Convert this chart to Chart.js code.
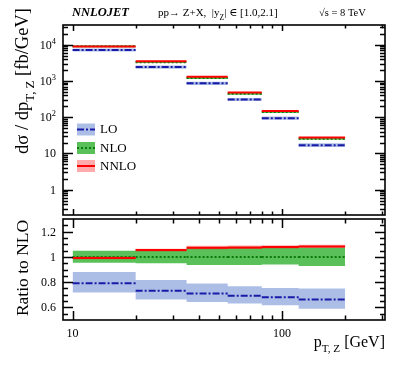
<!DOCTYPE html>
<html lang="en">
<head>
    <meta charset="UTF-8">
    <title>NNLOJET Z pT, |yZ| in [1.0,2.1]</title>
    <style>
        html, body { margin: 0; padding: 0; background: #fff; }
        #wrap { position: relative; width: 407px; height: 365px; }
        canvas { position: absolute; left: 0; }
        #top { top: 0; }
        #ratio { top: 217px; }
    </style>
</head>
<body>
<div id="wrap">
    <canvas id="top" width="407" height="217"></canvas>
    <canvas id="ratio" width="407" height="148"></canvas>
</div>

<script src="https://cdn.jsdelivr.net/npm/chart.js"></script>
<script>
// bins in pT,Z [GeV]
const binEdges = [10, 20, 35, 55, 80, 120, 200];

// top panel: dsigma/dpT [fb/GeV]
const loXs     = [7130, 2420, 858, 308, 94.0, 16.9];
const loLow    = [6450, 2185, 778, 280, 85.0, 15.1];
const loHigh   = [7920, 2690, 956, 341, 104, 19.2];
const nloXs    = [9000, 3300, 1210, 444, 138, 25.6];
const nloLow   = [8580, 3135, 1131, 415, 129.7, 23.7];
const nloHigh  = [9440, 3500, 1295, 477, 148.4, 27.5];
const nnloXs   = [8930, 3480, 1297, 477, 148.8, 27.7];
const nnloLow  = [8840, 3440, 1283, 472, 147.1, 27.4];
const nnloHigh = [9020, 3515, 1317, 484, 150.7, 28.1];

// bottom panel: ratio to NLO
const ratioLO       = [0.792, 0.732, 0.709, 0.693, 0.681, 0.662];
const ratioLOLow    = [0.717, 0.662, 0.643, 0.631, 0.616, 0.590];
const ratioLOHigh   = [0.880, 0.816, 0.790, 0.768, 0.753, 0.750];
const ratioNLO      = [1, 1, 1, 1, 1, 1];
const ratioNLOLow   = [0.953, 0.950, 0.935, 0.935, 0.940, 0.927];
const ratioNLOHigh  = [1.049, 1.060, 1.070, 1.075, 1.075, 1.075];
const ratioNNLO     = [0.992, 1.054, 1.072, 1.075, 1.078, 1.083];
const ratioNNLOLow  = [0.982, 1.043, 1.060, 1.063, 1.066, 1.070];
const ratioNNLOHigh = [1.002, 1.065, 1.088, 1.090, 1.092, 1.097];

// axis labels
const xTickValues = [10, 100];
const xTickLabels = ['10', '100'];
const topTickValues = [1, 10, 100, 1000, 10000];
const topTickLabels = ['1', '10', '10^2', '10^3', '10^4'];
const ratioTickValues = [0.6, 0.8, 1, 1.2];
const ratioTickLabels = ['0.6', '0.8', '1', '1.2'];
const legendLabels = ['LO', 'NLO', 'NNLO'];

const SERIF = '"Liberation Serif", "DejaVu Serif", serif';
const look = {
    LO:   { line: '#1a1aa8', dash: [7, 2, 2, 2], band: 'rgba(70,110,200,0.45)' },
    NLO:  { line: '#0a7a0a', dash: [2, 2],       band: 'rgba(20,165,20,0.70)' },
    NNLO: { line: '#ff0000', dash: [],           band: 'rgba(255,0,0,0.33)' }
};

// contiguous steps (for bands)
function stepPts(vals) {
    const pts = vals.map((v, i) => ({ x: binEdges[i], y: v }));
    pts.push({ x: binEdges[binEdges.length - 1], y: vals[vals.length - 1] });
    return pts;
}
// one flat segment per bin
function segPts(vals) {
    const pts = [];
    vals.forEach((v, i) => {
        pts.push({ x: binEdges[i], y: v }, { x: binEdges[i + 1], y: v }, { x: binEdges[i + 1], y: null });
    });
    return pts;
}
function bandSets(lo, hi, color) {
    const base = { stepped: true, borderColor: 'rgba(0,0,0,0)', borderWidth: 0, pointRadius: 0 };
    return [
        Object.assign({ data: stepPts(hi), fill: '+1', backgroundColor: color }, base),
        Object.assign({ data: stepPts(lo), fill: false }, base)
    ];
}
function lineSet(vals, s) {
    return { data: segPts(vals), fill: false, borderColor: s.line, borderWidth: 2,
             borderDash: s.dash, pointRadius: 0, spanGaps: false };
}

// text with sub/superscripts: parts = [[text, 0|'sub'|'sup'], ...]
function richWidth(ctx, parts, size) {
    let w = 0;
    parts.forEach(([t, k]) => {
        ctx.font = (k ? size * 0.7 : size) + 'px ' + SERIF;
        w += ctx.measureText(t).width;
    });
    return w;
}
function richText(ctx, parts, x, y, size, align) {
    const w = richWidth(ctx, parts, size);
    let cx = align === 'right' ? x - w : align === 'center' ? x - w / 2 : x;
    ctx.textBaseline = 'alphabetic';
    ctx.textAlign = 'left';
    parts.forEach(([t, k]) => {
        ctx.font = (k ? size * 0.7 : size) + 'px ' + SERIF;
        const dy = k === 'sub' ? size * 0.32 : k === 'sup' ? -size * 0.42 : 0;
        ctx.fillText(t, cx, y + dy);
        cx += ctx.measureText(t).width;
    });
}

const xMinor = [20, 30, 40, 50, 60, 70, 80, 90, 200, 300];

function drawFrame(chart, cfg) {
    const { ctx, chartArea: a, scales } = chart;
    const xs = scales.x, ys = scales.y;
    ctx.save();
    ctx.strokeStyle = '#000';
    ctx.lineWidth = 1.5;
    ctx.beginPath();
    // x ticks on top and bottom edge
    const xt = xTickValues.map(v => [v, cfg.xMajor]).concat(xMinor.map(v => [v, cfg.xMinor]));
    xt.forEach(([v, L]) => {
        const px = Math.round(xs.getPixelForValue(v)) + 0.5;
        if (px <= a.left + 1 || px >= a.right - 1) return;
        ctx.moveTo(px, a.top); ctx.lineTo(px, a.top + L);
        ctx.moveTo(px, a.bottom); ctx.lineTo(px, a.bottom - L);
    });
    // y ticks on left and right edge
    cfg.yTicks.forEach(([v, major]) => {
        const py = Math.round(ys.getPixelForValue(v)) + 0.5;
        if (py <= a.top + 1 || py >= a.bottom - 1) return;
        const L = major ? 10 : 5;
        ctx.moveTo(a.left, py); ctx.lineTo(a.left + L, py);
        ctx.moveTo(a.right, py); ctx.lineTo(a.right - L, py);
    });
    ctx.stroke();
    ctx.lineWidth = 1.6;
    ctx.strokeRect(a.left, a.top, a.right - a.left, a.bottom - a.top);
    ctx.restore();
}

function drawYTitle(ctx, parts, x, y, size) {
    ctx.save();
    ctx.translate(x, y);
    ctx.rotate(-Math.PI / 2);
    ctx.fillStyle = '#000';
    richText(ctx, parts, 0, 0, size, 'center');
    ctx.restore();
}

const topTicks = [];
for (let e = -1; e <= 4; e++) {
    for (let d = 1; d <= 9; d++) topTicks.push([d * Math.pow(10, e), d === 1]);
}
const ratioTicks = [];
for (let k = 11; k <= 25; k++) ratioTicks.push([k * 0.05, k % 4 === 0]);

const topPlugin = {
    id: 'topDecor',
    afterDraw(chart) {
        const { ctx, scales } = chart;
        drawFrame(chart, { xMajor: 6, xMinor: 3.5, yTicks: topTicks });
        ctx.save();
        ctx.fillStyle = '#000';
        // y tick labels
        topTickValues.forEach((v, i) => {
            const py = scales.y.getPixelForValue(v);
            const [b, ex] = topTickLabels[i].split('^');
            const parts = ex ? [[b, 0], [ex, 'sup']] : [[b, 0]];
            richText(ctx, parts, 56, py + 4, 12, 'right');
        });
        // header
        ctx.font = 'bold italic 12.5px ' + SERIF;
        ctx.textBaseline = 'alphabetic';
        ctx.fillText('NNLOJET', 72, 16);
        richText(ctx, [['pp\u2192 Z+X,  |y', 0], ['Z', 'sub'], ['| \u2208 [1.0,2.1]', 0]], 158, 16, 11, 'left');
        richText(ctx, [['\u221As = 8 TeV', 0]], 319, 16, 10.5, 'left');
        // y title
        drawYTitle(ctx, [['d\u03C3 / dp', 0], ['T, Z', 'sub'], [' [fb/GeV]', 0]], 28, 81, 18.5);
        // legend
        const boxes = [129.5, 148, 166];
        const keys = ['LO', 'NLO', 'NNLO'];
        keys.forEach((k, i) => {
            const s = look[k], cy = boxes[i];
            ctx.fillStyle = s.band;
            ctx.fillRect(77, cy - 6, 18, 12);
            ctx.strokeStyle = s.line;
            ctx.lineWidth = 2;
            ctx.setLineDash(s.dash);
            ctx.beginPath();
            ctx.moveTo(77, cy); ctx.lineTo(95, cy);
            ctx.stroke();
            ctx.setLineDash([]);
            ctx.fillStyle = '#000';
            ctx.font = '13px ' + SERIF;
            ctx.textBaseline = 'middle';
            ctx.fillText(legendLabels[i], 100, cy + 0.5);
        });
        ctx.restore();
    }
};

const ratioPlugin = {
    id: 'ratioDecor',
    afterDraw(chart) {
        const { ctx, scales } = chart;
        drawFrame(chart, { xMajor: 9, xMinor: 4.5, yTicks: ratioTicks });
        ctx.save();
        ctx.fillStyle = '#000';
        ratioTickValues.forEach((v, i) => {
            const py = scales.y.getPixelForValue(v);
            richText(ctx, [[ratioTickLabels[i], 0]], 56, py + 4, 12, 'right');
        });
        xTickValues.forEach((v, i) => {
            const px = scales.x.getPixelForValue(v);
            richText(ctx, [[xTickLabels[i], 0]], px, 120, 12, 'center');
        });
        richText(ctx, [['p', 0], ['T, Z', 'sub'], [' [GeV]', 0]], 385, 130, 16, 'right');
        drawYTitle(ctx, [['Ratio to NLO', 0]], 28, 51, 17.5);
        ctx.restore();
    }
};

function baseOptions(yScale, pad) {
    return {
        responsive: false,
        animation: false,
        events: [],
        layout: { padding: pad },
        plugins: { legend: { display: false }, tooltip: { enabled: false },
                   filler: { drawTime: 'beforeDatasetsDraw' } },
        scales: {
            x: { type: 'logarithmic', min: 9, max: 310, display: false },
            y: Object.assign({ display: false }, yScale)
        }
    };
}

new Chart(document.getElementById('top'), {
    type: 'line',
    data: {
        datasets: [
            ...bandSets(nnloLow, nnloHigh, look.NNLO.band),
            ...bandSets(nloLow, nloHigh, look.NLO.band),
            ...bandSets(loLow, loHigh, look.LO.band),
            lineSet(nnloXs, look.NNLO),
            lineSet(nloXs, look.NLO),
            lineSet(loXs, look.LO)
        ]
    },
    options: baseOptions({ type: 'logarithmic', min: 0.2, max: 35000 },
                         { left: 63, right: 22, top: 25, bottom: 2 }),
    plugins: [topPlugin]
});

new Chart(document.getElementById('ratio'), {
    type: 'line',
    data: {
        datasets: [
            ...bandSets(ratioNNLOLow, ratioNNLOHigh, look.NNLO.band),
            ...bandSets(ratioNLOLow, ratioNLOHigh, look.NLO.band),
            ...bandSets(ratioLOLow, ratioLOHigh, look.LO.band),
            lineSet(ratioNNLO, look.NNLO),
            lineSet(ratioNLO, look.NLO),
            lineSet(ratioLO, look.LO)
        ]
    },
    options: baseOptions({ type: 'linear', min: 0.5, max: 1.3 },
                         { left: 63, right: 22, top: 2, bottom: 45 }),
    plugins: [ratioPlugin]
});
</script>
</body>
</html>
